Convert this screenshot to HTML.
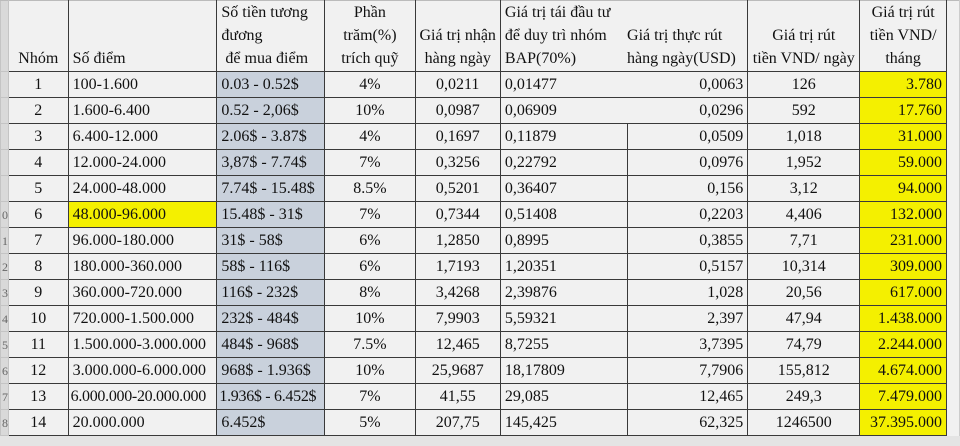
<!DOCTYPE html>
<html><head><meta charset="utf-8"><style>
body{margin:0;width:960px;height:446px;overflow:hidden;background:#e4e4e4;font-family:"Liberation Serif",serif;}
table{position:absolute;left:0;top:0;border-collapse:collapse;table-layout:fixed;font-size:16px;color:#111;}
td{border:1.5px solid #3a3a3a;padding:0 4px;white-space:nowrap;overflow:hidden;background:#f1f1f1;height:26px;line-height:20px;box-sizing:border-box;}
tr.h td{height:69px;vertical-align:bottom;line-height:23px;padding-bottom:1px;border-top:1px solid #bbb;}
td.g{background:#d9d9d9;border:1px solid #c4c4c4;padding:0;font-size:12px;color:#666;text-align:right;}
td.j{background:#f1f1f1;border:none;border-left:1.5px solid #3a3a3a;border-right:1px solid #ccc;}
.c{text-align:center}.r{text-align:right}
.b{background:#c9d1dc}
.y{background:#f4f000}
td.nf{border-right:none}
td.nl{border-left:none}
</style></head><body>
<table>
<colgroup><col style="width:8px"><col style="width:60px"><col style="width:149px"><col style="width:108px"><col style="width:91px"><col style="width:84px"><col style="width:127px"><col style="width:121px"><col style="width:112px"><col style="width:87px"><col style="width:13px"></colgroup>
<tr class="h"><td class="g"></td><td class="c">Nhóm</td><td>Số điểm</td><td>Số tiền tương<br>đương<br>&nbsp;để mua điểm</td><td class="c">Phần<br>trăm(%)<br>trích quỹ</td><td class="c">Giá trị nhận<br>hàng ngày</td><td class="nf">Giá trị tái đầu tư<br>để duy trì nhóm<br>BAP(70%)</td><td class="nl" style="padding-left:0">Giá trị thực rút<br>hàng ngày(USD)</td><td class="c">Giá trị rút<br>tiền VND/ ngày</td><td class="c">Giá trị rút<br>tiền VND/<br>tháng</td><td class="j"></td></tr>
<tr><td class="g"></td><td class="c">1</td><td>100-1.600</td><td class="b">0.03 - 0.52$</td><td class="c">4%</td><td class="c">0,0211</td><td class="nf">0,01477</td><td class="r nl">0,0063</td><td class="c">126</td><td class="r y">3.780</td><td class="j"></td></tr>
<tr><td class="g"></td><td class="c">2</td><td>1.600-6.400</td><td class="b">0.52 - 2,06$</td><td class="c">10%</td><td class="c">0,0987</td><td class="nf">0,06909</td><td class="r nl">0,0296</td><td class="c">592</td><td class="r y">17.760</td><td class="j"></td></tr>
<tr><td class="g"></td><td class="c">3</td><td>6.400-12.000</td><td class="b">2.06$ - 3.87$</td><td class="c">4%</td><td class="c">0,1697</td><td>0,11879</td><td class="r">0,0509</td><td class="c">1,018</td><td class="r y">31.000</td><td class="j"></td></tr>
<tr><td class="g"></td><td class="c">4</td><td>12.000-24.000</td><td class="b">3,87$ - 7.74$</td><td class="c">7%</td><td class="c">0,3256</td><td>0,22792</td><td class="r">0,0976</td><td class="c">1,952</td><td class="r y">59.000</td><td class="j"></td></tr>
<tr><td class="g"></td><td class="c">5</td><td>24.000-48.000</td><td class="b">7.74$ - 15.48$</td><td class="c">8.5%</td><td class="c">0,5201</td><td>0,36407</td><td class="r">0,156</td><td class="c">3,12</td><td class="r y">94.000</td><td class="j"></td></tr>
<tr><td class="g">0</td><td class="c">6</td><td class="y">48.000-96.000</td><td class="b">15.48$ - 31$</td><td class="c">7%</td><td class="c">0,7344</td><td>0,51408</td><td class="r">0,2203</td><td class="c">4,406</td><td class="r y">132.000</td><td class="j"></td></tr>
<tr><td class="g">1</td><td class="c">7</td><td>96.000-180.000</td><td class="b">31$ - 58$</td><td class="c">6%</td><td class="c">1,2850</td><td>0,8995</td><td class="r">0,3855</td><td class="c">7,71</td><td class="r y">231.000</td><td class="j"></td></tr>
<tr><td class="g">2</td><td class="c">8</td><td>180.000-360.000</td><td class="b">58$ - 116$</td><td class="c">6%</td><td class="c">1,7193</td><td>1,20351</td><td class="r">0,5157</td><td class="c">10,314</td><td class="r y">309.000</td><td class="j"></td></tr>
<tr><td class="g">3</td><td class="c">9</td><td>360.000-720.000</td><td class="b">116$ - 232$</td><td class="c">8%</td><td class="c">3,4268</td><td>2,39876</td><td class="r">1,028</td><td class="c">20,56</td><td class="r y">617.000</td><td class="j"></td></tr>
<tr><td class="g">4</td><td class="c">10</td><td>720.000-1.500.000</td><td class="b">232$ - 484$</td><td class="c">10%</td><td class="c">7,9903</td><td>5,59321</td><td class="r">2,397</td><td class="c">47,94</td><td class="r y">1.438.000</td><td class="j"></td></tr>
<tr><td class="g">5</td><td class="c">11</td><td>1.500.000-3.000.000</td><td class="b">484$ - 968$</td><td class="c">7.5%</td><td class="c">12,465</td><td>8,7255</td><td class="r">3,7395</td><td class="c">74,79</td><td class="r y">2.244.000</td><td class="j"></td></tr>
<tr><td class="g">6</td><td class="c">12</td><td>3.000.000-6.000.000</td><td class="b">968$ - 1.936$</td><td class="c">10%</td><td class="c">25,9687</td><td>18,17809</td><td class="r">7,7906</td><td class="c">155,812</td><td class="r y">4.674.000</td><td class="j"></td></tr>
<tr><td class="g">7</td><td class="c">13</td><td style="padding-left:2px;letter-spacing:-0.3px">6.000.000-20.000.000</td><td class="b" style="padding-left:2px;letter-spacing:-0.3px">1.936$ - 6.452$</td><td class="c">7%</td><td class="c">41,55</td><td>29,085</td><td class="r">12,465</td><td class="c">249,3</td><td class="r y">7.479.000</td><td class="j"></td></tr>
<tr><td class="g">8</td><td class="c">14</td><td>20.000.000</td><td class="b">6.452$</td><td class="c">5%</td><td class="c">207,75</td><td>145,425</td><td class="r">62,325</td><td class="c">1246500</td><td class="r y">37.395.000</td><td class="j"></td></tr>
</table>
</body></html>
